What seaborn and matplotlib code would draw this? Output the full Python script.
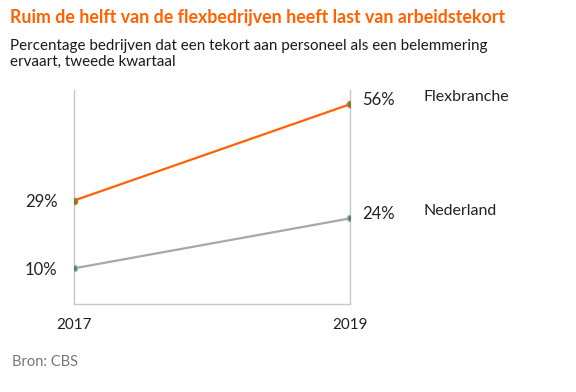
import matplotlib
matplotlib.use("Agg")
import matplotlib.pyplot as plt
import seaborn as sns
import pandas as pd

years = [2017, 2019]
series_names = ["Flexbranche", "Nederland"]
flex_values = [29, 56]
nl_values = [10, 24]
tick_labels = ["2017", "2019"]

title = "Ruim de helft van de flexbedrijven heeft last van arbeidstekort"
subtitle = "Percentage bedrijven dat een tekort aan personeel als een belemmering\nervaart, tweede kwartaal"
source = "Bron: CBS"

ORANGE = "#FF6200"
GRAY = "#A8A8A8"
GREEN = "#3E8E4E"

sns.set_theme(style="white")
plt.rcParams["font.family"] = ["Lato", "DejaVu Sans"]

df = pd.DataFrame({
    "year": years * 2,
    "value": flex_values + nl_values,
    "series": [series_names[0]] * 2 + [series_names[1]] * 2,
})

fig = plt.figure(figsize=(5.76, 3.92), dpi=100)
ax = fig.add_axes([74 / 576, 1 - 304 / 392, (350 - 74) / 576, (304 - 90) / 392])

sns.lineplot(data=df, x="year", y="value", hue="series",
             palette={series_names[0]: ORANGE, series_names[1]: GRAY},
             linewidth=1.6, ax=ax, legend=False)
for name, col in zip(series_names, [ORANGE, GRAY]):
    sub = df[df.series == name]
    ax.scatter(sub["year"], sub["value"], s=20, color=GREEN, edgecolor=col,
               linewidth=1.0, zorder=5)

ax.set_xlim(2017, 2019)
ax.set_ylim(0, 60)
ax.set_xticks(years)
ax.set_xticklabels(tick_labels, fontsize=11, color="#222222")
ax.tick_params(axis="x", length=0, pad=10)
ax.set_yticks([])
ax.set_xlabel("")
ax.set_ylabel("")
for s in ["left", "right", "bottom"]:
    ax.spines[s].set_color("#C8C8C8")
    ax.spines[s].set_linewidth(1.0)
ax.spines["top"].set_visible(False)

# value labels
for vals in (flex_values, nl_values):
    ax.annotate(f"{vals[0]}%", (years[0], vals[0]), xytext=(-12, -1),
                textcoords="offset points", ha="right", va="center",
                fontsize=12, color="#222222")
    ax.annotate(f"{vals[1]}%", (years[1], vals[1]), xytext=(9, 3),
                textcoords="offset points", ha="left", va="center",
                fontsize=12, color="#222222")
for name, vals in zip(series_names, (flex_values, nl_values)):
    ax.annotate(name, (years[1], vals[1]), xytext=(53, 5),
                textcoords="offset points", ha="left", va="center",
                fontsize=11.5, color="#222222")

fig.text(10 / 576, 1 - 18 / 392, title, fontsize=12.8, fontweight="bold",
         color=ORANGE, ha="left", va="center")
fig.text(10 / 576, 1 - 54 / 392, subtitle, fontsize=10.9, color="#1a1a1a",
         ha="left", va="center", linespacing=1.2)
fig.text(12 / 576, 1 - 362 / 392, source, fontsize=10.5, color="#777777",
         ha="left", va="center")

fig.savefig("out.png", dpi=100, facecolor="white")
